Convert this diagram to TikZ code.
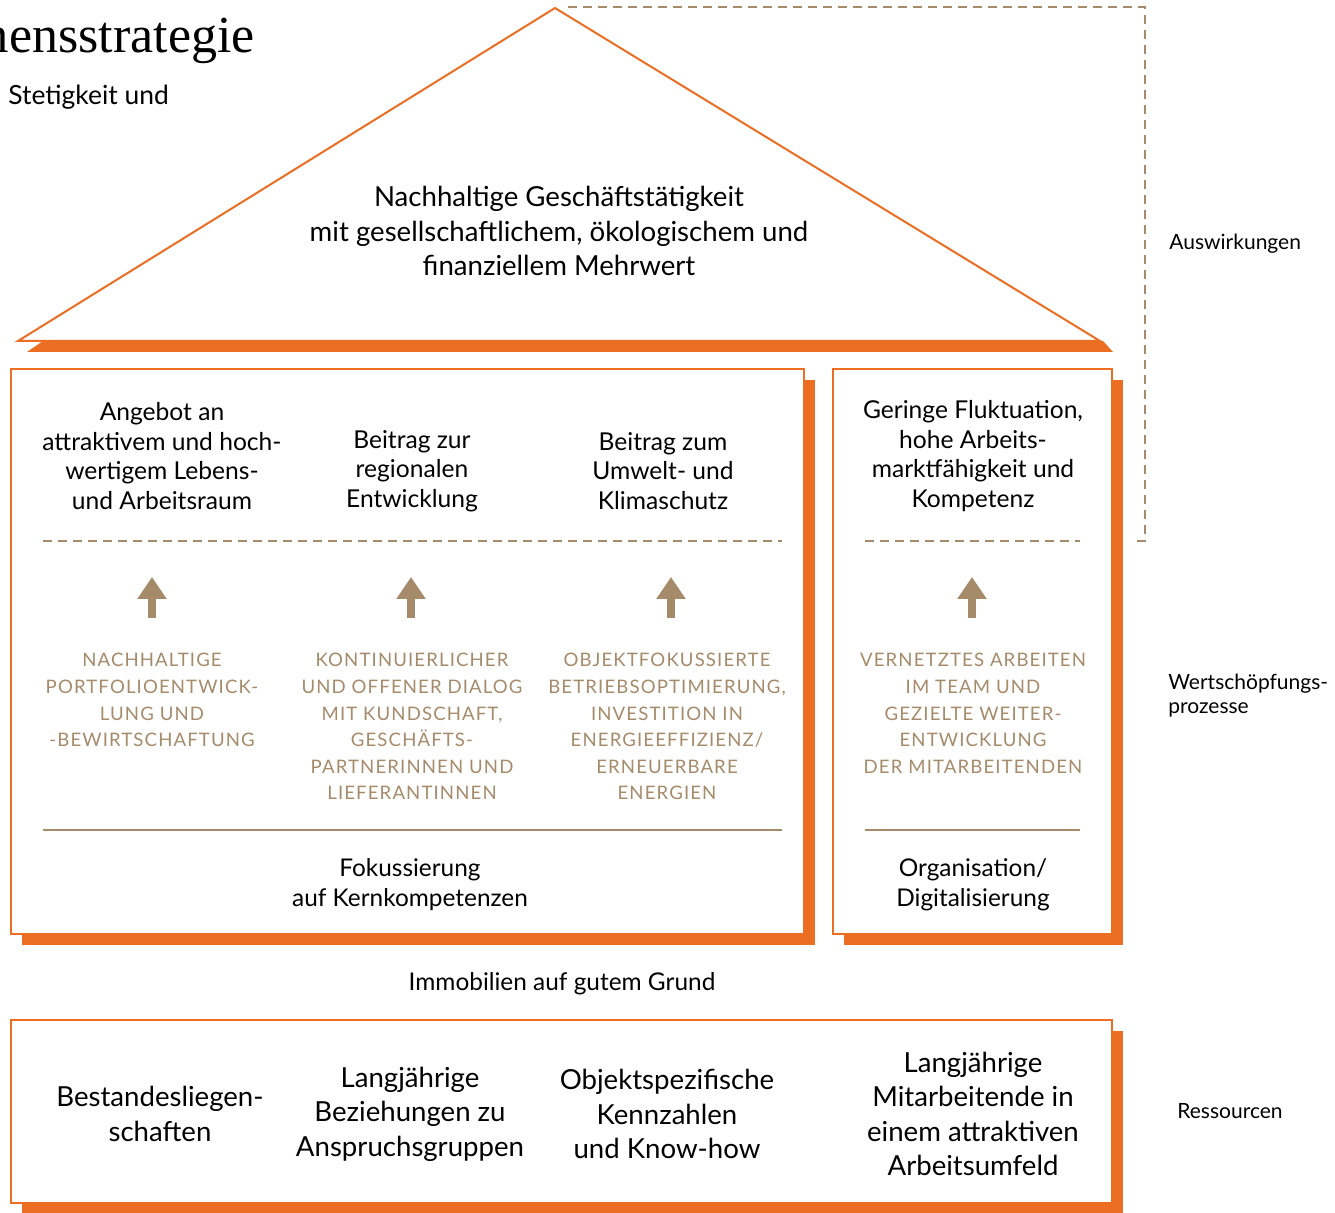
\documentclass[tikz,border=0pt]{standalone}
\usepackage{fontspec}
\setmainfont{Lato}
\newfontfamily\titelfont{Liberation Serif}
\usepackage{tikz}
\usetikzlibrary{arrows.meta}
\usetikzlibrary{math}

\definecolor{hausorange}{HTML}{EB6E23}
\definecolor{sand}{HTML}{A68B6B}

\tikzset{
  rahmen/.style={draw=hausorange, line width=1pt, fill=white},
  schatten/.style={fill=hausorange},
  trenner/.style={draw=sand, line width=1pt, dash pattern=on 4.5pt off 3pt},
  linie/.style={draw=sand, line width=1pt},
  pfeil/.style={draw=sand, line width=4pt, -{Triangle[width=14pt,length=11pt]}},
  dach/.style={align=center, inner sep=0, font=\fontsize{13.8}{17.25}\selectfont},
  wirkung/.style={align=center, inner sep=0, font=\fontsize{12.3}{14.75}\selectfont},
  prozess/.style={align=center, inner sep=0, anchor=north, text=sand,
    font=\fontsize{9.3}{13.3}\selectfont\addfontfeature{LetterSpace=6}},
  basis/.style={align=center, inner sep=0, font=\fontsize{12.2}{15}\selectfont},
  ressource/.style={align=center, inner sep=0, font=\fontsize{13.8}{17.25}\selectfont},
  seite/.style={align=left, inner sep=0, anchor=west, font=\fontsize{10.5}{12}\selectfont},
}

\begin{document}
\begin{tikzpicture}[x=0.5pt, y=-0.5pt]
\tikzmath{
\s=11;
}
\useasboundingbox (0,0) rectangle (1335,1213);
\clip (0,0) rectangle (1335,1213);

% Kopfzeile
\node[anchor=base east, inner sep=0, font=\titelfont\fontsize{26}{30}\selectfont] (titel) at (255,53) {Unternehmensstrategie};
\node[anchor=base west, inner sep=0, font=\fontsize{13.2}{16}\selectfont] (intro) at (8,105) {Stetigkeit und};

% Dach
\draw[trenner] (568,7) -- (1145,7) -- (1145,541) -- (1133,541);
\fill[schatten] (43,341) -- (1103,341) -- (1113,352) -- (27,352) -- cycle;
\draw[hausorange, line width=1pt, fill=white] (18,341) -- (555,8) -- (1100,341) -- cycle;
\node[dach] (mehrwert) at (559,231) {Nachhaltige Geschäftstätigkeit\\mit gesellschaftlichem, ökologischem und\\finanziellem Mehrwert};

% Saeulen
\fill[schatten] (11+\s,369+\s) rectangle (804+\s,934+\s);
\draw[rahmen] (11,369) rectangle (804,934);
\fill[schatten] (833+\s,369+\s) rectangle (1112+\s,934+\s);
\draw[rahmen] (833,369) rectangle (1112,934);

\draw[trenner] (43,541) -- (782,541);
\draw[trenner] (865,541) -- (1080,541);
\draw[linie] (43,830) -- (782,830);
\draw[linie] (865,830) -- (1080,830);

\node[wirkung] (angebot) at (162,456) {Angebot an\\attraktivem und hoch-\\wertigem Lebens-\\und Arbeitsraum};
\node[wirkung] (region) at (412,471) {Beitrag zur\\regionalen\\Entwicklung};
\node[wirkung] (umwelt) at (663,471) {Beitrag zum\\Umwelt- und\\Klimaschutz};
\node[wirkung] (fluktuation) at (973,456) {Geringe Fluktuation,\\hohe Arbeits-\\marktfähigkeit und\\Kompetenz};

\foreach \x in {152,411,671,972}
  \draw[pfeil] (\x,618) -- (\x,577);

\node[prozess] (portfolio) at (152,653) {NACHHALTIGE\\PORTFOLIOENTWICK-\\LUNG UND\\-BEWIRTSCHAFTUNG};
\node[prozess] (dialog) at (412,653) {KONTINUIERLICHER\\UND OFFENER DIALOG\\MIT KUNDSCHAFT,\\GESCHÄFTS-\\PARTNERINNEN UND\\LIEFERANTINNEN};
\node[prozess] (betrieb) at (667,653) {OBJEKTFOKUSSIERTE\\BETRIEBSOPTIMIERUNG,\\INVESTITION IN\\ENERGIEEFFIZIENZ/\\ERNEUERBARE\\ENERGIEN};
\node[prozess] (team) at (973,653) {VERNETZTES ARBEITEN\\IM TEAM UND\\GEZIELTE WEITER-\\ENTWICKLUNG\\DER MITARBEITENDEN};

\node[basis] (kern) at (410,885) {Fokussierung\\auf Kernkompetenzen};
\node[basis] (digital) at (973,885) {Organisation/\\Digitalisierung};

% Fundament
\node[basis] (grund) at (562,984) {Immobilien auf gutem Grund};
\fill[schatten] (11+\s,1020+\s) rectangle (1112+\s,1203+\s);
\draw[rahmen] (11,1020) rectangle (1112,1203);

\node[ressource] (bestand) at (160,1114) {Bestandesliegen-\\schaften};
\node[ressource] (beziehung) at (410,1114) {Langjährige\\Beziehungen zu\\Anspruchsgruppen};
\node[ressource] (kennzahl) at (667,1114) {Objektspezifische\\Kennzahlen\\und Know-how};
\node[ressource] (personal) at (973,1114) {Langjährige\\Mitarbeitende in\\einem attraktiven\\Arbeitsumfeld};

% Ebenen
\node[seite] (auswirkung) at (1169,244) {Auswirkungen};
\node[seite] (wertschoepfung) at (1168,696) {Wertschöpfungs-\\prozesse};
\node[seite] (ressourcen) at (1177,1111) {Ressourcen};

\end{tikzpicture}
\end{document}
